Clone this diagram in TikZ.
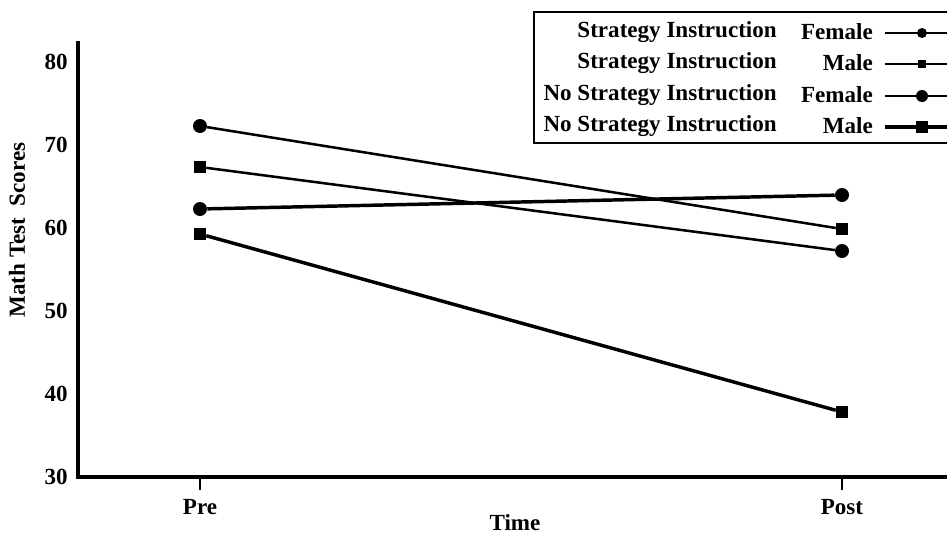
\documentclass[tikz,border=0pt]{standalone}
\usepackage{fontspec}
\setmainfont{Liberation Serif}
\begin{document}
\begin{tikzpicture}[x=0.75pt,y=-0.75pt,
  lbl/.style={font=\fontsize{17.3}{20}\selectfont\bfseries, inner sep=0pt},
  axis/.style={line width=2.4pt, line cap=rect},
  thinln/.style={line width=1.9pt},
  thickln/.style={line width=2.6pt},
  bigdot/.style={circle, fill=black, inner sep=0pt, minimum size=10.5pt},
  bigsq/.style={rectangle, fill=black, inner sep=0pt, minimum size=9pt},
  smalldot/.style={circle, fill=black, inner sep=0pt, minimum size=7.5pt},
  smallsq/.style={rectangle, fill=black, inner sep=0pt, minimum size=6.5pt},
  legbox/.style={draw, line width=1.8pt}]
\useasboundingbox (0,0) rectangle (947,536);
\clip (0,0) rectangle (947,536);

% axes
\coordinate (ytop) at (78,43);
\coordinate (orig) at (78,477);
\coordinate (xend) at (960,477);
\draw[axis] (ytop) -- (orig) -- (xend);

% x ticks
\coordinate (tpre) at (200,477);
\coordinate (tpreb) at (200,490);
\coordinate (tpost) at (842,477);
\coordinate (tpostb) at (842,490);
\draw[line width=1.8pt] (tpre) -- (tpreb);
\draw[line width=1.8pt] (tpost) -- (tpostb);
\node[lbl] (pre) at (200,507) {Pre};
\node[lbl] (post) at (842,507) {Post};
\node[lbl] (time) at (515,523) {Time};

% y tick labels
\node[lbl, anchor=east] (y80) at (68,62) {80};
\node[lbl, anchor=east] (y70) at (68,145) {70};
\node[lbl, anchor=east] (y60) at (68,228) {60};
\node[lbl, anchor=east] (y50) at (68,311) {50};
\node[lbl, anchor=east] (y40) at (68,394) {40};
\node[lbl, anchor=east] (y30) at (68,477) {30};
\node[lbl, rotate=90] (ylab) at (17,230) {Math Test\ \ Scores};

% data
\node[bigdot] (a1) at (200,126) {};
\node[bigsq]  (a2) at (842,229) {};
\node[bigsq]  (b1) at (200,167) {};
\node[bigdot] (b2) at (842,251) {};
\node[bigdot] (c1) at (200,209) {};
\node[bigdot] (c2) at (842,195) {};
\node[bigsq]  (d1) at (200,234) {};
\node[bigsq]  (d2) at (842,412) {};
\draw[thinln] (a1) -- (a2);
\draw[thinln] (b1) -- (b2);
\draw[thickln] (c1) -- (c2);
\draw[thickln] (d1) -- (d2);

% legend
\draw[legbox] (534,12) rectangle (960,143);
\node[lbl, anchor=east] (l1a) at (777,32) {Strategy Instruction};
\node[lbl, anchor=east] (l2a) at (777,63) {Strategy Instruction};
\node[lbl, anchor=east] (l3a) at (777,95) {No Strategy Instruction};
\node[lbl, anchor=east] (l4a) at (777,126) {No Strategy Instruction};
\node[lbl, anchor=east] (l1b) at (873,32) {Female};
\node[lbl, anchor=east] (l2b) at (873,63) {Male};
\node[lbl, anchor=east] (l3b) at (873,95) {Female};
\node[lbl, anchor=east] (l4b) at (873,126) {Male};
\coordinate (s1) at (885,33); \coordinate (e1) at (960,33);
\coordinate (s2) at (885,64); \coordinate (e2) at (960,64);
\coordinate (s3) at (885,96); \coordinate (e3) at (960,96);
\coordinate (s4) at (885,127); \coordinate (e4) at (960,127);
\draw[line width=1.4pt] (s1) -- (e1);
\draw[line width=1.4pt] (s2) -- (e2);
\draw[line width=1.9pt] (s3) -- (e3);
\draw[line width=2.3pt] (s4) -- (e4);
\node[smalldot] (m1) at (922,33) {};
\node[smallsq]  (m2) at (922,64) {};
\node[bigdot, minimum size=9pt] (m3) at (922,96) {};
\node[bigsq, minimum size=8.5pt] (m4) at (922,127) {};
\end{tikzpicture}
\end{document}
